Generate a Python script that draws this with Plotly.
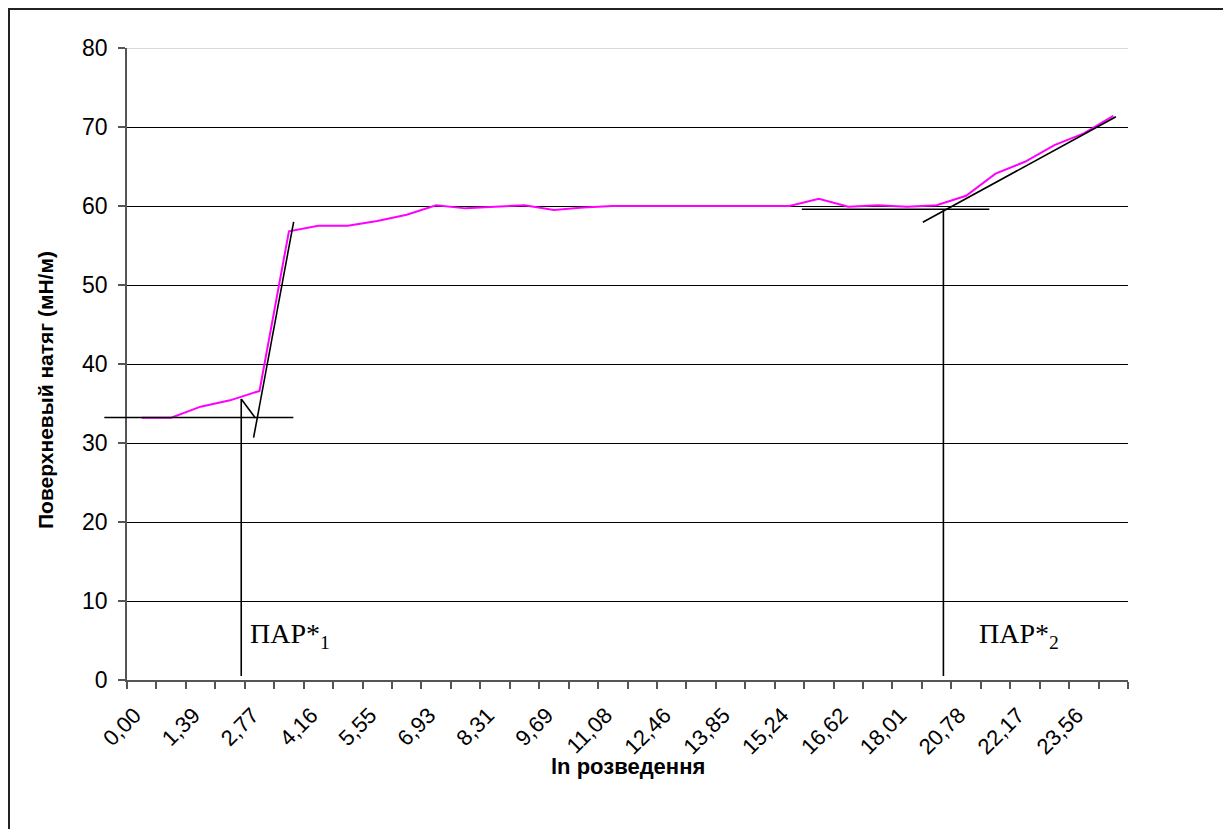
import plotly.graph_objects as go

# ---- data ----
categories = ["0,00", "0,69", "1,39", "2,08", "2,77", "3,46", "4,16", "4,85", "5,55", "6,24",
              "6,93", "7,62", "8,31", "9,00", "9,69", "10,39", "11,08", "11,77", "12,46", "13,16",
              "13,85", "14,54", "15,24", "15,93", "16,62", "17,31", "18,01", "19,40", "20,78", "21,47",
              "22,17", "22,86", "23,56", "24,25"]
tension = [33.2, 33.2, 34.6, 35.4, 36.6, 56.8, 57.5, 57.5, 58.1, 58.9,
           60.1, 59.7, 59.9, 60.1, 59.5, 59.8, 60.0, 60.0, 60.0, 60.0,
           60.0, 60.0, 60.0, 60.9, 59.9, 60.1, 59.9, 60.1, 61.3, 64.1,
           65.6, 67.7, 69.2, 71.4]
y_ticks = [0, 10, 20, 30, 40, 50, 60, 70, 80]
label_every = 2

# graphical construction lines (category index, value)
construction_lines = [
    ((-1.27, 33.23), (5.15, 33.23)),
    ((3.38, 35.57), (3.38, 0.5)),
    ((3.38, 35.57), (3.86, 33.16)),
    ((3.80, 30.67), (5.16, 58.0)),
    ((22.42, 59.58), (28.79, 59.58)),
    ((27.23, 59.58), (27.23, 0.5)),
    ((26.53, 57.94), (33.09, 71.3)),
]
cmc_labels = [("ПАР*<sub>1</sub>", 3.62, 5.6), ("ПАР*<sub>2</sub>", 28.37, 5.6)]

# ---- layout constants ----
W, H = 1231, 829
ML, MR, MT, MB = 119, 111, 40, 157
PW, PH = W - ML - MR, H - MT - MB
AXC = "#555555"
SANS = "Liberation Sans, Arial, sans-serif"
SERIF = "Liberation Serif, Times New Roman, serif"

x_idx = list(range(len(categories)))
x_range = [-0.5, len(categories) - 0.5]


def to_paper_x(v):
    return (v - x_range[0]) / (x_range[1] - x_range[0])


fig = go.Figure()
fig.add_trace(go.Scatter(x=x_idx, y=tension, mode="lines",
                         line=dict(color="#FF00FF", width=2), showlegend=False,
                         hoverinfo="skip"))

shapes = []
# light top gridline
shapes.append(dict(type="line", xref="paper", yref="y", x0=0, x1=1, y0=80, y1=80,
                   line=dict(color="#d9d9d9", width=2), layer="above"))
for (a, b) in construction_lines:
    shapes.append(dict(type="line", xref="paper", yref="y",
                       x0=to_paper_x(a[0]), y0=a[1], x1=to_paper_x(b[0]), y1=b[1],
                       line=dict(color="black", width=1.6), layer="above"))
# outer chart frame = paper edge (right / bottom lie beyond the picture)
shapes.append(dict(type="rect", xref="paper", yref="paper",
                   x0=-(ML - 1) / PW, x1=(PW + MR - 1) / PW,
                   y0=-(MB - 1) / PH, y1=1 + (MT - 1) / PH,
                   line=dict(color="#222222", width=2), fillcolor="rgba(0,0,0,0)"))

annotations = []
for txt, xv, yv in cmc_labels:
    annotations.append(dict(text=txt, x=xv, y=yv, xref="x", yref="y", showarrow=False,
                            xanchor="left", yanchor="middle",
                            font=dict(family=SERIF, size=28, color="black")))
annotations.append(dict(text="<b>ln розведення</b>", x=0.5, y=0, xref="paper", yref="paper",
                        showarrow=False, yanchor="middle", yshift=-86,
                        font=dict(family=SANS, size=22, color="black")))
annotations.append(dict(text="<b>Поверхневый натяг (мН/м)</b>", x=0, y=0.5, xref="paper",
                        yref="paper", showarrow=False, textangle=-90, xanchor="center",
                        yanchor="middle", xshift=-82, yshift=-26,
                        font=dict(family=SANS, size=21, color="black")))

fig.update_layout(
    width=W, height=H,
    margin=dict(l=ML, r=MR, t=MT, b=MB, autoexpand=False),
    paper_bgcolor="white", plot_bgcolor="white",
    shapes=shapes, annotations=annotations,
    xaxis=dict(range=x_range, tickmode="array",
               tickvals=x_idx[::label_every], ticktext=categories[::label_every],
               tickangle=-45, ticks="", showgrid=False, zeroline=False,
               showline=True, linecolor=AXC, linewidth=1.5,
               ticklabelstandoff=12, ticklabelshift=-7,
               tickfont=dict(family=SANS, size=22, color="black")),
    yaxis=dict(range=[0, 80], tickmode="array", tickvals=y_ticks,
               ticks="outside", ticklen=7, tickcolor=AXC, tickwidth=1.5,
               showline=True, linecolor=AXC, linewidth=1.5,
               ticklabelstandoff=6,
               showgrid=True, gridcolor="black", gridwidth=1, zeroline=False,
               tickfont=dict(family=SANS, size=23, color="black")),
)
fig.update_xaxes(minor=dict(tick0=-0.5, dtick=1, ticks="outside", ticklen=7,
                            tickcolor=AXC, tickwidth=1.5, showgrid=False))

fig.write_html("out.html")
